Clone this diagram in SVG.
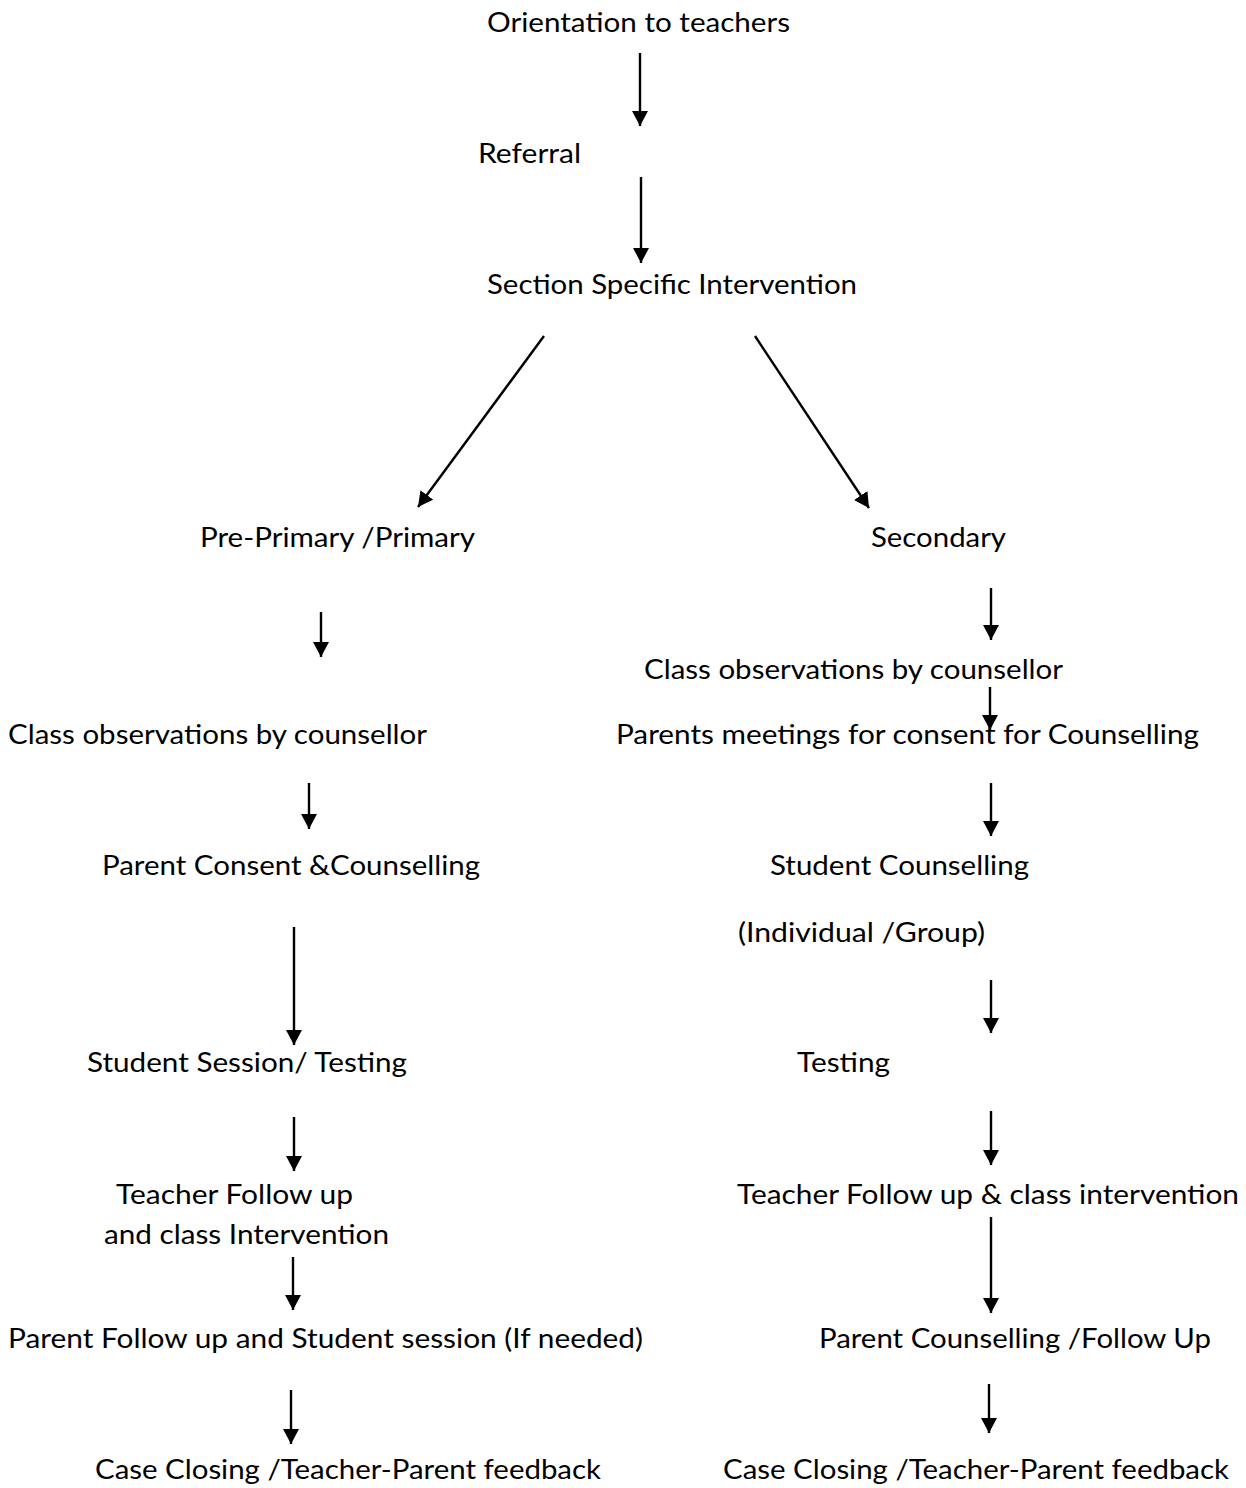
<svg xmlns="http://www.w3.org/2000/svg" width="1246" height="1488" viewBox="0 0 1246 1488">
<defs>
<marker id="ah" markerUnits="userSpaceOnUse" markerWidth="18" markerHeight="18" refX="15" refY="8" orient="auto">
<path d="M0,0 L15,8 L0,16 z" fill="#000"/>
</marker>
<style>
text{font-family:Lato,"Open Sans","Liberation Sans",sans-serif;font-size:27px;fill:#000}
.c line{stroke:#000;stroke-width:2.4;marker-end:url(#ah)}
</style>
</defs>
<rect width="1246" height="1488" fill="#fff"/>
<g id="n1"><text x="487" y="32" textLength="303" lengthAdjust="spacingAndGlyphs">Orientation to teachers</text></g>
<g id="n2"><text x="478" y="163" textLength="103" lengthAdjust="spacingAndGlyphs">Referral</text></g>
<g id="n3"><text x="487" y="294" textLength="370" lengthAdjust="spacingAndGlyphs">Section Specific Intervention</text></g>
<g id="n4"><text x="200" y="547" textLength="275" lengthAdjust="spacingAndGlyphs">Pre-Primary /Primary</text></g>
<g id="n5"><text x="871" y="547" textLength="135" lengthAdjust="spacingAndGlyphs">Secondary</text></g>
<g id="n6"><text x="644" y="679" textLength="419" lengthAdjust="spacingAndGlyphs">Class observations by counsellor</text></g>
<g id="n7"><text x="616" y="744" textLength="583" lengthAdjust="spacingAndGlyphs">Parents meetings for consent for Counselling</text></g>
<g id="n8"><text x="8" y="744" textLength="419" lengthAdjust="spacingAndGlyphs">Class observations by counsellor</text></g>
<g id="n9"><text x="102" y="875" textLength="378" lengthAdjust="spacingAndGlyphs">Parent Consent &amp;Counselling</text></g>
<g id="n10"><text x="770" y="875" textLength="259" lengthAdjust="spacingAndGlyphs">Student Counselling</text></g>
<g id="n11"><text x="738" y="942" textLength="247" lengthAdjust="spacingAndGlyphs">(Individual /Group)</text></g>
<g id="n12"><text x="87" y="1072" textLength="320" lengthAdjust="spacingAndGlyphs">Student Session/ Testing</text></g>
<g id="n13"><text x="797" y="1072" textLength="93" lengthAdjust="spacingAndGlyphs">Testing</text></g>
<g id="n14"><text x="116" y="1204" textLength="237" lengthAdjust="spacingAndGlyphs">Teacher Follow up</text><text x="104" y="1244" textLength="285" lengthAdjust="spacingAndGlyphs">and class Intervention</text></g>
<g id="n15"><text x="737" y="1204" textLength="502" lengthAdjust="spacingAndGlyphs">Teacher Follow up &amp; class intervention</text></g>
<g id="n16"><text x="8" y="1348" textLength="635" lengthAdjust="spacingAndGlyphs">Parent Follow up and Student session (If needed)</text></g>
<g id="n17"><text x="819" y="1348" textLength="392" lengthAdjust="spacingAndGlyphs">Parent Counselling /Follow Up</text></g>
<g id="n18"><text x="95" y="1479" textLength="506" lengthAdjust="spacingAndGlyphs">Case Closing /Teacher-Parent feedback</text></g>
<g id="n19"><text x="723" y="1479" textLength="506" lengthAdjust="spacingAndGlyphs">Case Closing /Teacher-Parent feedback</text></g>
<g id="connectors" class="c">
<line x1="640" y1="53" x2="640" y2="126"/>
<line x1="641" y1="177" x2="641" y2="263"/>
<line x1="544" y1="336" x2="418" y2="507"/>
<line x1="755" y1="336" x2="869" y2="508"/>
<line x1="321" y1="612" x2="321" y2="657"/>
<line x1="309" y1="783" x2="309" y2="829"/>
<line x1="294" y1="927" x2="294" y2="1045"/>
<line x1="294" y1="1117" x2="294" y2="1171"/>
<line x1="293" y1="1257" x2="293" y2="1310"/>
<line x1="291" y1="1390" x2="291" y2="1444"/>
<line x1="991" y1="588" x2="991" y2="640"/>
<line x1="990" y1="687" x2="990" y2="730"/>
<line x1="991" y1="783" x2="991" y2="836"/>
<line x1="991" y1="980" x2="991" y2="1033"/>
<line x1="991" y1="1111" x2="991" y2="1165"/>
<line x1="991" y1="1217" x2="991" y2="1313"/>
<line x1="989" y1="1384" x2="989" y2="1433"/>
</g>
</svg>
